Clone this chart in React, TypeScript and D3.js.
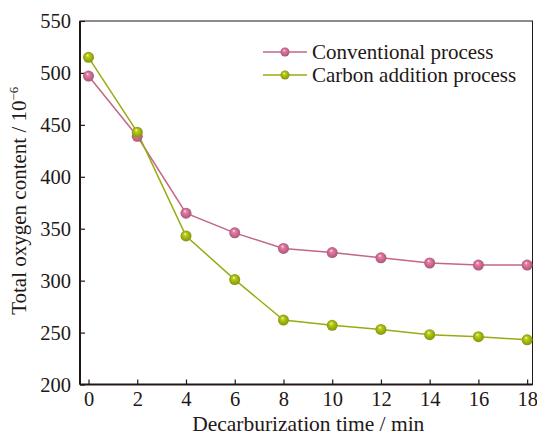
import { useEffect, useRef } from "react";
import * as d3 from "d3";

// decarburization time (min) and total oxygen content (10^-6) per process
const times = [0, 2, 4, 6, 8, 10, 12, 14, 16, 18];
const conventional = [497, 439, 365, 346, 331, 327, 322, 317, 315, 315];
const carbonAddition = [515, 443, 343, 301, 262, 257, 253, 248, 246, 243];
const xTicks = [0, 2, 4, 6, 8, 10, 12, 14, 16, 18];
const yTicks = [200, 250, 300, 350, 400, 450, 500, 550];

const seriesNames = ["Conventional process", "Carbon addition process"];
const seriesColors = ["#c2668a", "#9aab12"];

const W = 537;
const H = 436;
const FONT = "'Liberation Serif', 'Times New Roman', serif";

export default function App() {
  const ref = useRef<SVGSVGElement>(null);

  useEffect(() => {
    const svg = d3.select(ref.current!);
    svg.selectAll("*").remove();

    const left = 80, right = 532.5, top = 21, bottom = 384.5;
    const x = d3.scaleLinear().domain([-0.35, 18.22]).range([left, right]);
    const y = d3.scaleLinear().domain([200, 550]).range([bottom, top]);

    const defs = svg.append("defs");
    seriesColors.forEach((c, i) => {
      const g = defs
        .append("radialGradient")
        .attr("id", `ball${i}`)
        .attr("cx", "50%")
        .attr("cy", "50%")
        .attr("r", "55%")
        .attr("fx", "40%")
        .attr("fy", "30%");
      g.append("stop").attr("offset", "0%").attr("stop-color", "#ffffff");
      g.append("stop").attr("offset", "22%").attr("stop-color", d3.color(c)!.brighter(0.6).formatHex());
      g.append("stop").attr("offset", "65%").attr("stop-color", c);
      g.append("stop").attr("offset", "100%").attr("stop-color", d3.color(c)!.darker(0.5).formatHex());
    });

    // frame
    svg
      .append("rect")
      .attr("x", left)
      .attr("y", top)
      .attr("width", right - left)
      .attr("height", bottom - top)
      .attr("fill", "none")
      .attr("stroke", "#231815")
      .attr("stroke-width", 1);
    svg
      .append("line")
      .attr("x1", left)
      .attr("x2", left)
      .attr("y1", top)
      .attr("y2", bottom)
      .attr("stroke", "#231815")
      .attr("stroke-width", 2);
    svg
      .append("line")
      .attr("x1", left)
      .attr("x2", right)
      .attr("y1", bottom)
      .attr("y2", bottom)
      .attr("stroke", "#231815")
      .attr("stroke-width", 2);

    // y axis, inward ticks
    const gy = svg
      .append("g")
      .attr("transform", `translate(${left},0)`)
      .call(d3.axisLeft(y).tickValues(yTicks).tickSize(-5).tickPadding(9));
    gy.select(".domain").remove();
    gy.selectAll("line").attr("stroke", "#231815").attr("stroke-width", 1.2);
    gy.selectAll("text")
      .attr("fill", "#231815")
      .attr("font-family", FONT)
      .attr("font-size", "20.5px");

    // x axis, inward ticks
    const gx = svg
      .append("g")
      .attr("transform", `translate(0,${bottom})`)
      .call(d3.axisBottom(x).tickValues(xTicks).tickSize(-5).tickPadding(7));
    gx.select(".domain").remove();
    gx.selectAll("line").attr("stroke", "#231815").attr("stroke-width", 1.2);
    gx.selectAll("text")
      .attr("fill", "#231815")
      .attr("font-family", FONT)
      .attr("font-size", "20.5px");

    svg
      .append("text")
      .attr("x", (left + right) / 2 + 2)
      .attr("y", 431)
      .attr("text-anchor", "middle")
      .attr("fill", "#231815")
      .attr("font-family", FONT)
      .attr("font-size", "21.5px")
      .text("Decarburization time / min");

    const yl = svg
      .append("text")
      .attr("transform", `translate(26,${(top + bottom) / 2 - 2}) rotate(-90)`)
      .attr("text-anchor", "middle")
      .attr("fill", "#231815")
      .attr("font-family", FONT)
      .attr("font-size", "21px");
    yl.append("tspan").text("Total oxygen content / 10");
    yl.append("tspan").attr("dy", -8).attr("font-size", "13px").text("\u22126");

    const series = [conventional, carbonAddition];
    const line = d3
      .line<number>()
      .x((_d, i) => x(times[i]))
      .y((d) => y(d));

    series.forEach((vals, i) => {
      svg
        .append("path")
        .datum(vals)
        .attr("d", line)
        .attr("fill", "none")
        .attr("stroke", seriesColors[i])
        .attr("stroke-width", 1.5);
    });
    series.forEach((vals, i) => {
      svg
        .append("g")
        .selectAll("circle")
        .data(vals)
        .join("circle")
        .attr("cx", (_d, j) => x(times[j]))
        .attr("cy", (d) => y(d))
        .attr("r", 5.5)
        .attr("fill", `url(#ball${i})`);
    });

    // legend
    const lg = svg.append("g").attr("transform", "translate(263,52)");
    seriesNames.forEach((name, i) => {
      const row = lg.append("g").attr("transform", `translate(0,${i * 23})`);
      row
        .append("line")
        .attr("x1", 0)
        .attr("x2", 44)
        .attr("stroke", seriesColors[i])
        .attr("stroke-width", 1.5);
      row.append("circle").attr("cx", 22).attr("r", 4.5).attr("fill", `url(#ball${i})`);
      row
        .append("text")
        .attr("x", 49)
        .attr("dy", "0.33em")
        .attr("fill", "#231815")
        .attr("font-family", FONT)
        .attr("font-size", "21px")
        .text(name);
    });
  }, []);

  return (
    <svg
      ref={ref}
      width={W}
      height={H}
      style={{ position: "absolute", left: 0, top: 0, background: "#fff" }}
    />
  );
}
